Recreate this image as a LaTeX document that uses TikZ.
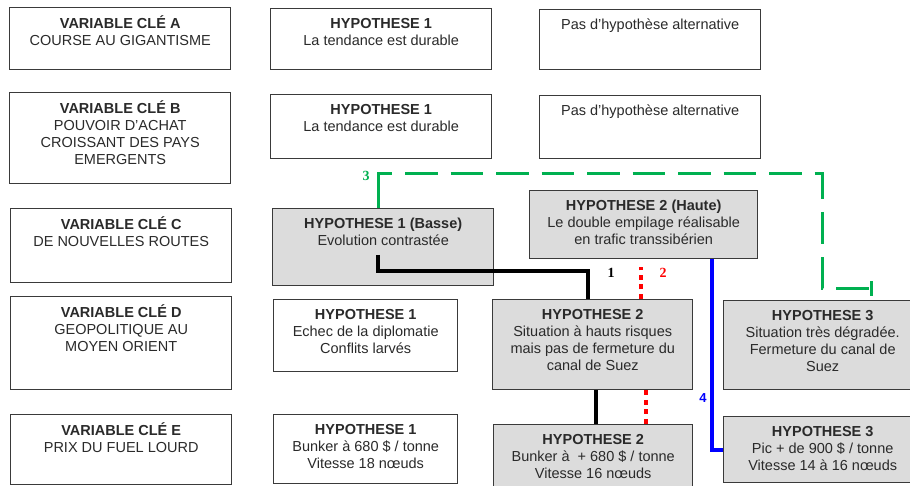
\documentclass[tikz,border=0pt]{standalone}
\usepackage{fontspec}
\setmainfont{Liberation Sans}
\newfontfamily\serifnum{Liberation Serif}
\usetikzlibrary{arrows.meta}
\definecolor{boxline}{HTML}{3A3A3A}
\definecolor{boxfill}{HTML}{DCDCDC}
\definecolor{txt}{HTML}{2A2A2A}
\definecolor{grn}{HTML}{00B050}
\tikzset{
 box/.style={draw=boxline, line width=1.4pt, inner sep=0pt, anchor=north west, fill=white},
 gbox/.style={box, fill=boxfill},
 lbl/.style={anchor=north, align=center, inner sep=0pt, text=txt, font=\fontsize{14.5}{17}\selectfont},
 num/.style={font=\serifnum\bfseries\fontsize{14}{16}\selectfont, inner sep=0pt},
 blk/.style={line width=4pt, black},
 grnd/.style={line width=3pt, grn, dash pattern=on 32.5pt off 13pt, dash phase=30pt},
 grns/.style={line width=3pt, grn},
 reddot/.style={line width=4pt, red, dash pattern=on 5pt off 4.5pt},
 blu/.style={line width=4pt, blue}
}
\newcommand\bx[7]{%
 \node[#6, minimum width={(#4-#2)*1pt}, minimum height={(#5-#3)*1pt}] (#1) at (#2,#3) {};
 \node[lbl] (#1t) at ([yshift=-8.5pt]#1.north) {\strut #7};}
\begin{document}
\begin{tikzpicture}[x=1pt,y=-1pt]
\useasboundingbox (0,0) rectangle (910,486);
\clip (0,0) rectangle (910,486);
% column 1
\bx{va}{9}{7}{230}{69}{box}{\textbf{VARIABLE CLÉ A}\\COURSE AU GIGANTISME}
\bx{vb}{9}{92}{230}{183}{box}{\textbf{VARIABLE CLÉ B}\\POUVOIR D’ACHAT\\CROISSANT DES PAYS\\EMERGENTS}
\bx{vc}{10}{208}{231}{282}{box}{\textbf{VARIABLE CLÉ C}\\DE NOUVELLES ROUTES}
\bx{vd}{10}{296}{231}{389}{box}{\textbf{VARIABLE CLÉ D}\\GEOPOLITIQUE AU\\MOYEN ORIENT}
\bx{ve}{10}{414}{231}{484}{box}{\textbf{VARIABLE CLÉ E}\\PRIX DU FUEL LOURD}
% column 2
\bx{ha}{270}{8}{491}{69}{box}{\textbf{HYPOTHESE 1}\\La tendance est durable}
\bx{hb}{270}{94}{491}{158}{box}{\textbf{HYPOTHESE 1}\\La tendance est durable}
\bx{hc}{272}{208}{493}{285}{gbox}{\textbf{HYPOTHESE 1 (Basse)}\\Evolution contrastée}
\bx{hd}{273}{299}{457}{371}{box}{\textbf{HYPOTHESE 1}\\Echec de la diplomatie\\Conflits larvés}
\bx{he}{273}{414}{457}{483}{box}{\textbf{HYPOTHESE 1}\\Bunker à 680 \$ / tonne\\Vitesse 18 nœuds}
% column 3
\bx{pa}{539}{9}{760}{69}{box}{Pas d’hypothèse alternative}
\bx{pb}{539}{95}{760}{158}{box}{Pas d’hypothèse alternative}
\bx{kc}{529}{190}{757}{258}{gbox}{\textbf{HYPOTHESE 2 (Haute)}\\Le double empilage réalisable\\en trafic transsibérien}
\bx{kd}{492}{299}{692}{389}{gbox}{\textbf{HYPOTHESE 2}\\Situation à hauts risques\\mais pas de fermeture du\\canal de Suez}
\bx{ke}{493}{424}{692}{496}{gbox}{\textbf{HYPOTHESE 2}\\Bunker à \ + 680 \$ / tonne\\Vitesse 16 nœuds}
% column 4
\bx{md}{723}{300}{921}{389}{gbox}{\textbf{HYPOTHESE 3}\\Situation très dégradée.\\Fermeture du canal de\\Suez}
\bx{me}{723}{416}{921}{482}{gbox}{\textbf{HYPOTHESE 3}\\Pic + de 900 \$ / tonne\\Vitesse 14 à 16 nœuds}
% connectors
\coordinate (bk1) at (378,255);
\draw[blk] (bk1) -- (378,271) -| (588,0 |- kd.north);
\draw[blk] (596,0 |- kd.south) -- (596,0 |- ke.north);
\draw[reddot] (641,0 |- kd.north) -- ++(0,-32);
\draw[reddot] (646,0 |- kd.south) -- (646,0 |- ke.north);
\coordinate (g3) at (873,289);
\draw[grnd, -{Bar[width=15pt,line width=3pt]}] (378,0 |- hc.north) |- (822,174) |- (g3);
\draw[grns] (378,0 |- hc.north) |- (392,174);
\draw[blu] (712,0 |- kc.south) |- (me.west);
% labels
\node[num, text=grn] (n3) at (366,176) {3};
\node[num] (n1) at (611,273) {1};
\node[num, text=red] (n2) at (663,273) {2};
\node[font=\bfseries\fontsize{13}{15}\selectfont, text=blue, inner sep=0pt] (n4) at (703,398) {4};
\end{tikzpicture}
\end{document}
